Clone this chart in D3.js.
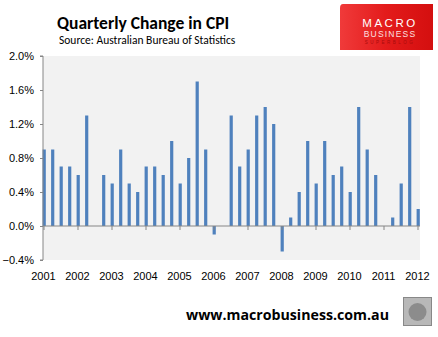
<!DOCTYPE html>
<html><head><meta charset="utf-8">
<script src="https://cdn.jsdelivr.net/npm/d3@7"></script>
<style>body{margin:0;background:#fff;}svg{display:block;}</style>
</head><body><svg id="c" width="438" height="337"></svg>
<script>
const years = ["2001","2002","2003","2004","2005","2006","2007","2008","2009","2010","2011","2012"];
const quarters = [];
for (let y = 2001; y <= 2012; y++) for (let q = 1; q <= 4; q++) if (!(y === 2012 && q > 1)) quarters.push(y + "Q" + q);
const cpiChange = [0.9,0.9,0.7,0.7, 0.6,1.3,0.0,0.6, 0.5,0.9,0.5,0.4, 0.7,0.7,0.6,1.0,
                   0.5,0.8,1.7,0.9, -0.1,0.0,1.3,0.7, 0.9,1.3,1.4,1.2, -0.3,0.1,0.4,1.0,
                   0.5,1.0,0.6,0.7, 0.4,1.4,0.9,0.6, 0.0,0.1,0.5,1.4, 0.2];
const yTicks = [-0.4,0.0,0.4,0.8,1.2,1.6,2.0];
const title = "Quarterly Change in CPI";
const subtitle = "Source: Australian Bureau of Statistics";
const footer = "www.macrobusiness.com.au";

const svg = d3.select("#c");
const L = 43, R = 420, T = 56, B = 260;
const x = d3.scaleLinear().domain([0, quarters.length - 1]).range([43.5, 417.5]);
const y = d3.scaleLinear().domain([-0.4, 2.0]).range([B, T]);
const axisCol = "#868686";
const font = "'Liberation Sans', Arial, sans-serif";

// plot background
svg.append("rect").attr("x", L).attr("y", T).attr("width", R - L).attr("height", B - T).attr("fill", "#f2f2f2");

// bars
svg.append("g").selectAll("rect").data(cpiChange).join("rect")
  .attr("x", (d, i) => x(i) - 0.9)
  .attr("width", 3.2)
  .attr("y", d => y(Math.max(0, d)))
  .attr("height", d => Math.abs(y(d) - y(0)))
  .attr("fill", "#4f81bd");

// y axis
const yAxis = d3.axisLeft(y).tickValues(yTicks).tickSize(3).tickPadding(6)
  .tickFormat(d => d3.format(".1f")(d) + "%");
const gy = svg.append("g").attr("transform", `translate(${L},0)`).call(yAxis);
gy.select(".domain").attr("stroke", axisCol).attr("d", `M-3,${T}H0V${B}H-3`);
gy.selectAll(".tick line").attr("stroke", axisCol);
gy.selectAll("text").attr("font-family", font).attr("font-size", 11).attr("fill", "#000");

// x axis at zero
const yearIdx = years.map((d, i) => i * 4);
const xAxis = d3.axisBottom(x).tickValues(yearIdx).tickSize(4).tickFormat("");
const gx = svg.append("g").attr("transform", `translate(0,${y(0)})`).call(xAxis);
gx.select(".domain").attr("stroke", axisCol).attr("d", `M${L},0H${R}`);
gx.selectAll(".tick line").attr("stroke", axisCol);

// x labels at bottom
svg.append("g").selectAll("text").data(years).join("text")
  .attr("x", (d, i) => x(i * 4))
  .attr("y", 280)
  .attr("text-anchor", "middle")
  .attr("font-family", font).attr("font-size", 11).attr("fill", "#000")
  .text(d => d);

// title
svg.append("text").attr("x", 57).attr("y", 29).attr("font-family", "Carlito, 'Open Sans', sans-serif")
  .attr("font-weight", "bold").attr("font-size", 17.5).attr("fill", "#000").text(title);
svg.append("text").attr("x", 59).attr("y", 44).attr("font-family", "Carlito, 'Open Sans', sans-serif")
  .attr("font-size", 11.5).attr("fill", "#000").text(subtitle);

// logo
const defs = svg.append("defs");
const gr = defs.append("linearGradient").attr("id", "lg").attr("x1", 0).attr("x2", 1).attr("y1", 0).attr("y2", 0);
gr.append("stop").attr("offset", "0").attr("stop-color", "#f03a3a");
gr.append("stop").attr("offset", "0.5").attr("stop-color", "#e31b1b");
gr.append("stop").attr("offset", "1").attr("stop-color", "#d40f0f");
svg.append("path").attr("d", "M343,4H433V50H340V8Q340,4 343,4Z").attr("fill", "url(#lg)");
svg.append("text").attr("x", 390).attr("y", 27).attr("text-anchor", "middle").attr("font-family", font)
  .attr("font-size", 11.5).attr("letter-spacing", 2.5).attr("fill", "#fff").text("MACRO");
svg.append("text").attr("x", 390).attr("y", 37).attr("text-anchor", "middle").attr("font-family", font)
  .attr("font-size", 8.5).attr("letter-spacing", 1.2).attr("fill", "#fbe0e0").text("BUSINESS");
svg.append("text").attr("x", 390).attr("y", 44).attr("text-anchor", "middle").attr("font-family", font)
  .attr("font-size", 4.5).attr("letter-spacing", 2.5).attr("fill", "#a80c0c").text("SUPERBLOG");

// footer
svg.append("text").attr("x", 389).attr("y", 320).attr("text-anchor", "end").attr("font-family", "'Open Sans', sans-serif")
  .attr("font-weight", "bold").attr("font-size", 14.2).attr("fill", "#000").text(footer);
svg.append("rect").attr("x", 403.5).attr("y", 297.5).attr("width", 28).attr("height", 28)
  .attr("fill", "#b8b8b8").attr("stroke", "#888");
svg.append("circle").attr("cx", 417.5).attr("cy", 312).attr("r", 9).attr("fill", "#8c8c8c");
</script></body></html>
